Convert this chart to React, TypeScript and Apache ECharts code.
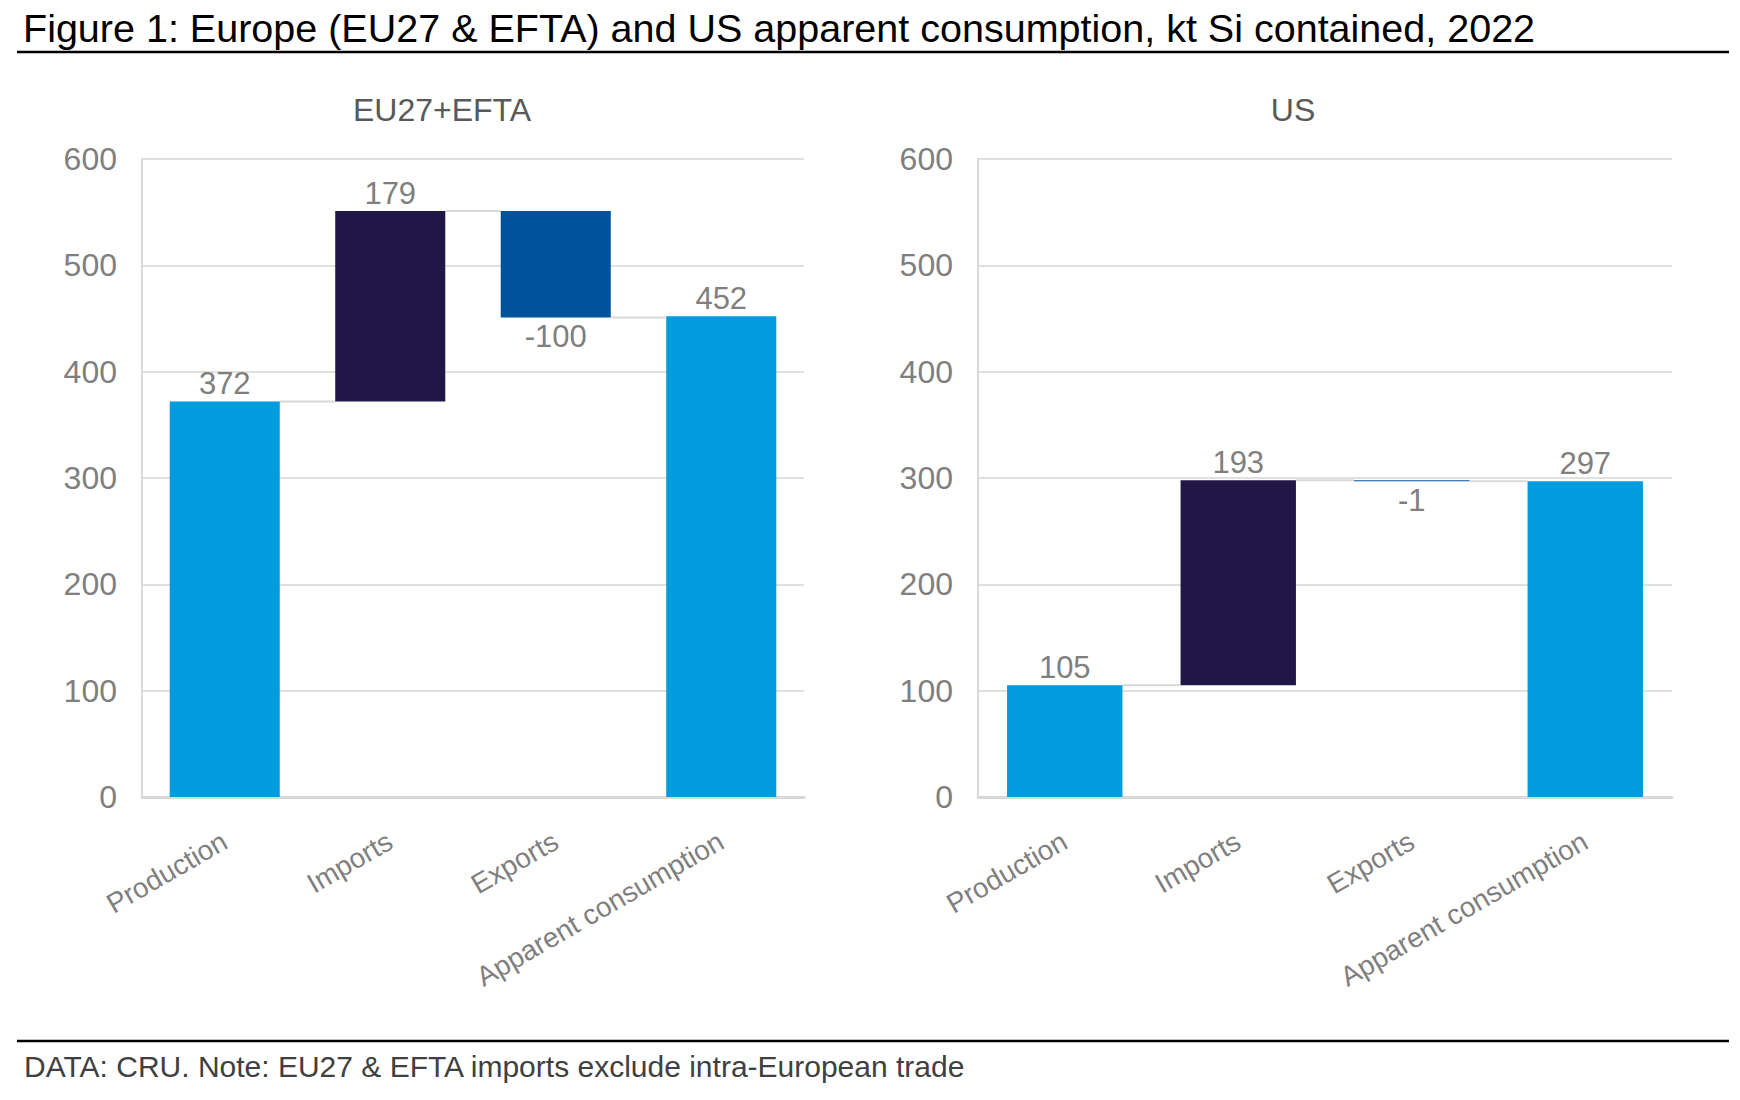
import * as React from "react";
import * as echarts from "echarts";
import { useEffect, useRef } from "react";

const categories = ["Production", "Imports", "Exports", "Apparent consumption"];
// signed steps; the last one is a total bar
const euValues = [372, 179, -100, 452];
const usValues = [105, 193, -1, 297];
const yTicks = { min: 0, max: 600, interval: 100 };

const colors = ["#009CDE", "#201747", "#00529B", "#009CDE"];
const gray = "#7F7F7F";
const lineGray = "#D9D9D9";

// base + visible height of each waterfall bar
function buildWaterfall(values: number[]) {
  const base: number[] = [];
  const height: number[] = [];
  const ends: number[] = [];
  let run = 0;
  values.forEach((v, i) => {
    const isTotal = i === 0 || i === values.length - 1;
    if (isTotal) {
      base.push(0);
      height.push(v);
      run = v;
    } else {
      const next = run + v;
      base.push(Math.min(run, next));
      height.push(Math.abs(v));
      run = next;
    }
    ends.push(run);
  });
  return { base, height, ends };
}

const App = () => {
  const chartRef = useRef<HTMLDivElement>(null);

  useEffect(() => {
    if (!chartRef.current) return;
    const myChart = echarts.init(chartRef.current, null, { renderer: "svg" });

    const panels = [euValues, usValues];
    const grids = [
      { left: 142, right: 936, top: 159, bottom: 303 },
      { left: 978, right: 68, top: 159, bottom: 303 },
    ];
    const barRatio = 0.665;

    const series: any[] = [];
    panels.forEach((vals, g) => {
      const wf = buildWaterfall(vals);
      series.push({
        type: "bar",
        xAxisIndex: g,
        yAxisIndex: g,
        stack: "w" + g,
        barWidth: barRatio * 100 + "%",
        silent: true,
        itemStyle: { color: "transparent" },
        data: wf.base,
      });
      series.push({
        type: "bar",
        xAxisIndex: g,
        yAxisIndex: g,
        stack: "w" + g,
        barWidth: barRatio * 100 + "%",
        data: wf.height.map((h, i) => ({
          value: h,
          itemStyle: { color: colors[i] },
          label: {
            show: true,
            position: vals[i] < 0 ? "bottom" : "top",
            distance: vals[i] < 0 ? 4 : 2,
            formatter: String(vals[i]),
            color: gray,
            fontSize: 31,
            fontFamily: "Liberation Sans, Arial, sans-serif",
          },
        })),
      });
      // connector lines between bars
      series.push({
        type: "custom",
        xAxisIndex: g,
        yAxisIndex: g,
        silent: true,
        z: 1,
        data: wf.ends.slice(0, -1).map((e, i) => [i, e]),
        renderItem: (params: any, api: any) => {
          const i = api.value(0);
          const lvl = api.value(1);
          const p0 = api.coord([i, lvl]);
          const p1 = api.coord([i + 1, lvl]);
          const half = (api.size([1, 0])[0] * barRatio) / 2;
          return {
            type: "line",
            shape: { x1: p0[0] + half, y1: p0[1], x2: p1[0] - half, y2: p1[1] },
            style: { stroke: lineGray, lineWidth: 2 },
          };
        },
      });
    });

    const option = {
      animation: false,
      backgroundColor: "#FFFFFF",
      textStyle: { fontFamily: "Liberation Sans, Arial, sans-serif" },
      title: [
        {
          text: "Figure 1: Europe (EU27 & EFTA) and US apparent consumption, kt Si contained, 2022",
          left: 18,
          top: 3,
          textStyle: { fontSize: 39.5, fontWeight: "normal", color: "#000000" },
        },
        {
          text: "EU27+EFTA",
          left: 437,
          top: 89,
          textAlign: "center",
          textStyle: { fontSize: 32, fontWeight: "normal", color: "#595959" },
        },
        {
          text: "US",
          left: 1288,
          top: 89,
          textAlign: "center",
          textStyle: { fontSize: 32, fontWeight: "normal", color: "#595959" },
        },
        {
          text: "DATA: CRU. Note: EU27 & EFTA imports exclude intra-European trade",
          left: 19,
          top: 1046,
          textStyle: { fontSize: 30, fontWeight: "normal", color: "#404040" },
        },
      ],
      graphic: [
        { type: "line", shape: { x1: 17, y1: 52, x2: 1729, y2: 52 }, style: { stroke: "#000", lineWidth: 2.5 } },
        { type: "line", shape: { x1: 17, y1: 1041, x2: 1729, y2: 1041 }, style: { stroke: "#000", lineWidth: 2.5 } },
      ],
      grid: grids,
      xAxis: grids.map((_, g) => ({
        type: "category",
        gridIndex: g,
        data: categories,
        axisLine: { show: true, lineStyle: { color: lineGray, width: 3 } },
        axisTick: { show: false },
        axisLabel: {
          rotate: 30,
          interval: 0,
          margin: 42,
          color: gray,
          fontSize: 28,
        },
      })),
      yAxis: grids.map((_, g) => ({
        type: "value",
        gridIndex: g,
        min: yTicks.min,
        max: yTicks.max,
        interval: yTicks.interval,
        axisLine: { show: true, lineStyle: { color: lineGray, width: 2 } },
        axisTick: { show: false },
        splitLine: { show: true, lineStyle: { color: "#E0E0E0", width: 2 } },
        axisLabel: { color: gray, fontSize: 32, margin: 25 },
      })),
      series,
    };

    myChart.setOption(option as any);

    return () => {
      myChart.dispose();
    };
  }, []);

  return (
    <div
      ref={chartRef}
      style={{ position: "absolute", left: 0, top: 0, width: 1740, height: 1100 }}
    />
  );
};

export default App;
